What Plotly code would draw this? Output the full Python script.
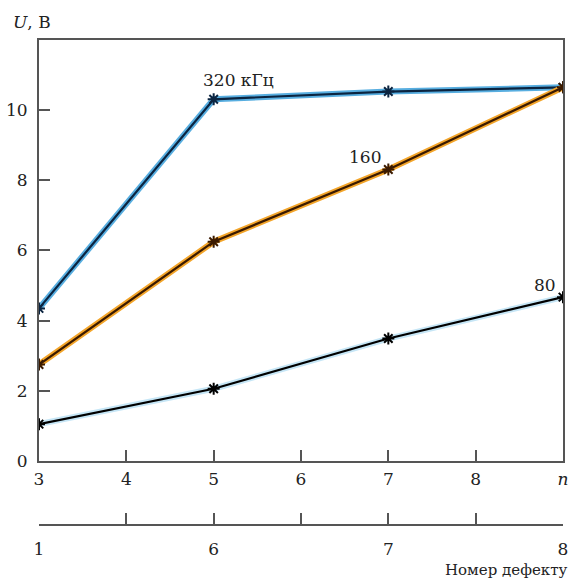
import plotly.graph_objects as go

# ---- data ----
x_pos = [3, 5, 7, 9]                      # positions on the n axis (9 = "n")
u_320 = [4.35, 10.31, 10.53, 10.65]       # 320 kHz
u_160 = [2.75, 6.25, 8.31, 10.65]         # 160 kHz
u_80 = [1.05, 2.06, 3.49, 4.67]           # 80 kHz

n_tickvals = [3, 4, 5, 6, 7, 8, 9]
n_ticktext = ["3", "4", "5", "6", "7", "8", "<i>n</i>"]
defect_ticktext = ["1", "", "6", "", "7", "", "8"]
y_tickvals = [0, 2, 4, 6, 8, 10]

series = [
    (u_320, "#58aee0", "#0b2440", "320 кГц", 4.85, 10.86),
    (u_160, "#f3a52a", "#3a1a00", "160", 6.53, 8.67),
    (u_80, "#c6e6f6", "#000000", "80", 8.64, 5.02),
]

FONT = "DejaVu Serif"
FS = 17
AX = "#555555"

fig = go.Figure()
for vals, halo, core, label, lx, ly in series:
    fig.add_trace(go.Scatter(x=x_pos, y=vals, mode="lines",
                             line=dict(color=halo, width=6),
                             hoverinfo="skip", showlegend=False))
    fig.add_trace(go.Scatter(x=x_pos, y=vals, mode="lines+markers",
                             line=dict(color=core, width=2.2),
                             marker=dict(symbol="asterisk-open", size=10,
                                         line=dict(color="#3b1535", width=2)),
                             showlegend=False))
    fig.add_annotation(x=lx, y=ly, xref="x", yref="y", text=label,
                       showarrow=False, xanchor="left",
                       font=dict(family=FONT, size=FS, color="#222222"))

# dummy trace to establish secondary axis
fig.add_trace(go.Scatter(x=x_pos, y=[0] * len(x_pos), xaxis="x2", yaxis="y2",
                         mode="markers", marker=dict(opacity=0),
                         hoverinfo="skip", showlegend=False))

fig.add_annotation(x=-0.0525, y=1.037, xref="paper", yref="paper",
                   xanchor="left", yanchor="middle", showarrow=False,
                   text="<i>U</i>, В",
                   font=dict(family=FONT, size=FS, color="#222222"))
fig.add_annotation(x=1.011, y=-0.095, xref="paper", yref="paper",
                   xanchor="right", yanchor="middle", showarrow=False,
                   text="Номер дефекту",
                   font=dict(family=FONT, size=15, color="#222222"))

fig.update_layout(
    width=574, height=581,
    margin=dict(l=35, r=6, t=40, b=57),
    paper_bgcolor="white", plot_bgcolor="white",
    font=dict(family=FONT, size=FS, color="#222222"),
    xaxis=dict(range=[3, 9], tickvals=n_tickvals, ticktext=n_ticktext,
               ticks="inside", ticklen=11, tickwidth=2, tickcolor=AX,
               showline=True, linecolor=AX, linewidth=2, mirror=True,
               showgrid=False, zeroline=False, anchor="y",
               tickfont=dict(family=FONT, size=FS),
               ticklabelstandoff=2),
    yaxis=dict(range=[0, 12], tickvals=y_tickvals,
               ticks="inside", ticklen=11, tickwidth=2, tickcolor=AX,
               showline=True, linecolor=AX, linewidth=2, mirror=True,
               showgrid=False, zeroline=False, domain=[0.1302, 1],
               tickfont=dict(family=FONT, size=FS),
               ticklabelstandoff=6),
    xaxis2=dict(range=[3, 9], tickvals=n_tickvals, ticktext=defect_ticktext,
                ticks="inside", ticklen=11, tickwidth=2, tickcolor=AX,
                showline=True, linecolor=AX, linewidth=2,
                showgrid=False, zeroline=False, anchor="y2",
                tickfont=dict(family=FONT, size=FS),
                ticklabelstandoff=9),
    yaxis2=dict(range=[0, 1], domain=[0, 0.02], visible=False,
                showgrid=False, zeroline=False),
)

fig.write_html("out.html")
